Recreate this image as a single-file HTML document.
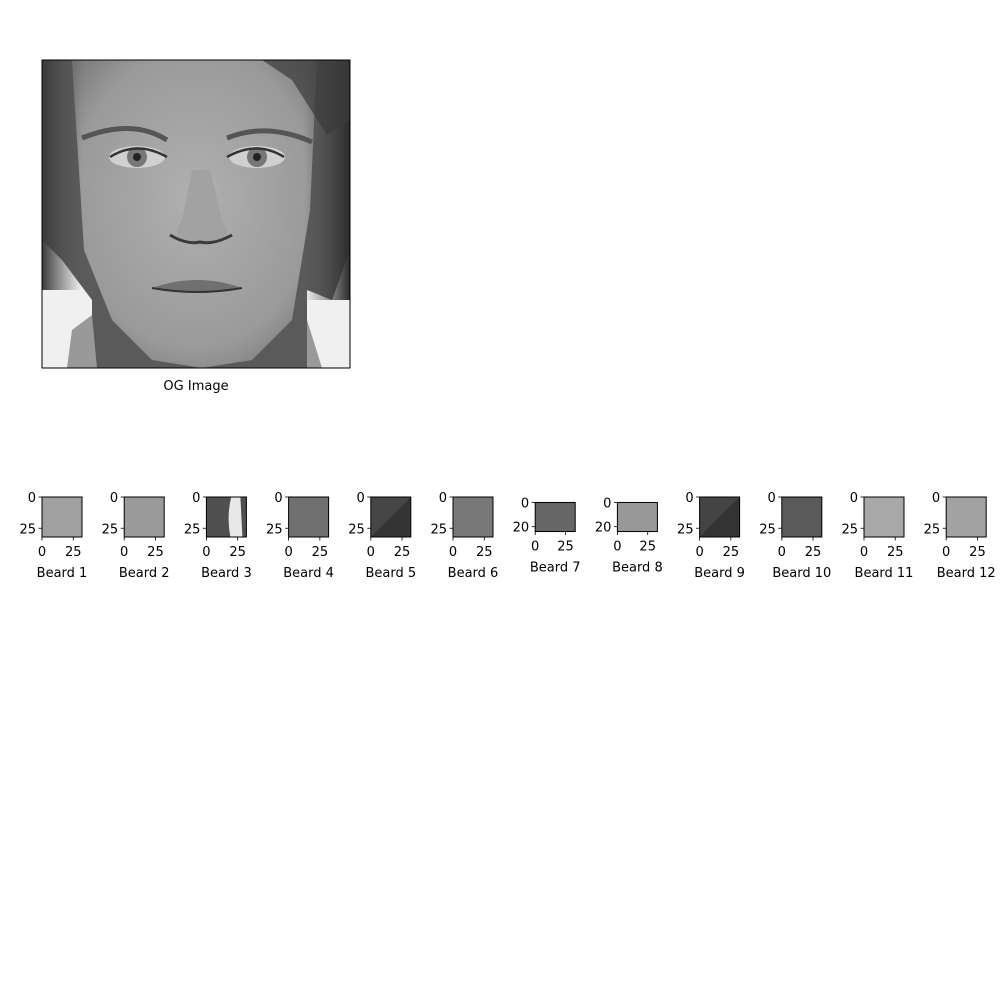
<!DOCTYPE html>
<html><head><meta charset="utf-8">
<style>
html,body{margin:0;padding:0;background:#fff;}
body{width:1000px;height:1000px;position:relative;overflow:hidden;font-family:"Liberation Sans","DejaVu Sans",sans-serif;}
</style></head>
<body>
<svg id="fig" width="1000" height="1000" viewBox="0 0 1000 1000" xmlns="http://www.w3.org/2000/svg" font-family="DejaVu Sans, Liberation Sans, sans-serif">
 <defs>
  <radialGradient id="skin" cx="0.5" cy="0.45" r="0.65">
   <stop offset="0" stop-color="#b0b0b0"/><stop offset="0.75" stop-color="#9a9a9a"/><stop offset="1" stop-color="#7a7a7a"/>
  </radialGradient>
  <linearGradient id="hairL" x1="0" x2="1"><stop offset="0" stop-color="#3a3a3a"/><stop offset="1" stop-color="#555" stop-opacity="0"/></linearGradient>
  <linearGradient id="hairR" x1="1" x2="0"><stop offset="0" stop-color="#2a2a2a"/><stop offset="1" stop-color="#555" stop-opacity="0"/></linearGradient>
  <clipPath id="faceclip"><rect x="0" y="0" width="308" height="308"/></clipPath>
 </defs>
 <g transform="translate(42,60)">
  <g clip-path="url(#faceclip)">
   <rect width="308" height="308" fill="#f0f0f0"/>
   <path d="M0,0 H308 V190 L290,240 L265,230 V308 H50 V240 L20,200 L0,180 Z" fill="#5a5a5a"/>
   <path d="M30,0 H275 L268,150 L250,260 L210,300 L160,308 L110,300 L70,260 L42,190 Z" fill="url(#skin)"/>
   <rect x="0" y="0" width="40" height="230" fill="url(#hairL)"/>
   <rect x="262" y="0" width="46" height="240" fill="url(#hairR)"/>
   <path d="M220,0 L308,0 L308,60 L285,75 L250,20 Z" fill="#3a3a3a" opacity="0.7"/>
   <path d="M30,270 L50,255 L55,308 L25,308 Z" fill="#999"/>
   <path d="M265,260 L280,308 L265,308 Z" fill="#999"/>
   <path d="M40,78 Q90,58 125,80" stroke="#555" stroke-width="5" fill="none"/>
   <path d="M185,78 Q225,62 270,82" stroke="#555" stroke-width="5" fill="none"/>
   <ellipse cx="95" cy="97" rx="28" ry="11" fill="#d0d0d0"/>
   <ellipse cx="215" cy="97" rx="28" ry="11" fill="#d0d0d0"/>
   <circle cx="95" cy="97" r="10" fill="#777"/><circle cx="95" cy="97" r="4" fill="#222"/>
   <circle cx="215" cy="97" r="10" fill="#777"/><circle cx="215" cy="97" r="4" fill="#222"/>
   <path d="M68,97 Q95,80 125,97" stroke="#333" stroke-width="2.5" fill="none"/>
   <path d="M185,97 Q215,80 242,97" stroke="#333" stroke-width="2.5" fill="none"/>
   <path d="M150,110 L140,160 Q128,178 145,182 Q160,190 175,182 Q192,178 180,160 L168,110" fill="#a2a2a2"/>
   <path d="M128,175 Q145,185 158,182 Q172,185 190,175" stroke="#3a3a3a" stroke-width="3" fill="none"/>
   <path d="M110,228 Q155,212 200,228 Q155,238 110,228 Z" fill="#707070"/>
   <path d="M110,228 Q155,236 200,228" stroke="#333" stroke-width="2" fill="none"/>
  </g>
  <rect x="0" y="0" width="308" height="308" fill="none" stroke="#000" stroke-width="1"/>
 </g>
 <text x="196" y="390" font-size="13" text-anchor="middle">OG Image</text>
 <g id="patches"></g>
</svg>
<script>
const patchLabels = ["Beard 1","Beard 2","Beard 3","Beard 4","Beard 5","Beard 6","Beard 7","Beard 8","Beard 9","Beard 10","Beard 11","Beard 12"];
const patchRows = [32,32,32,32,32,32,24,24,32,32,32,32];
const patchCols = [32,32,32,32,32,32,33,33,32,32,32,32];
const patchGray = [160,154,80,112,70,120,102,152,68,90,168,162];
const patchYTicks = [[0,25],[0,25],[0,25],[0,25],[0,25],[0,25],[0,20],[0,20],[0,25],[0,25],[0,25],[0,25]];
const patchXTicks = [0,25];

const NS="http://www.w3.org/2000/svg";
const g=document.getElementById('patches');
function mk(t,a){const e=document.createElementNS(NS,t);for(const k in a)e.setAttribute(k,a[k]);return e;}
const x0=42, step=82.2, cy=517, side=40;
patchLabels.forEach((lab,i)=>{
  const sc=side/Math.max(patchRows[i],patchCols[i]);
  const w=patchCols[i]*sc, h=patchRows[i]*sc;
  const left=x0+i*step, top=cy-h/2;
  const xs=v=>left+v*sc, ys=v=>top+v*sc;
  const grp=mk('g',{});
  
  
  const c=patchGray[i];
  const r=mk('rect',{x:left,y:top,width:w,height:h,fill:`rgb(${c},${c},${c})`});
  
  
  grp.appendChild(r);
  if(i===2){const s=mk('path',{d:`M${left+w*0.62},${top} L${left+w*0.85},${top} L${left+w*0.9},${top+h} L${left+w*0.6},${top+h} Q${left+w*0.5},${top+h*0.5} ${left+w*0.62},${top} Z`,fill:'#e8e8e8'});grp.appendChild(s);}
  if(i===4||i===8){const s=mk('path',{d:`M${left+w},${top} L${left+w},${top+h} L${left},${top+h} Z`,fill:'rgba(0,0,0,0.25)'});grp.appendChild(s);}
  grp.appendChild(mk('rect',{x:left,y:top,width:w,height:h,fill:'none',stroke:'#000','stroke-width':1}));
  patchYTicks[i].forEach(t=>{
    const y=ys(t);
    grp.appendChild(mk('line',{x1:left-3.5,x2:left,y1:y,y2:y,stroke:'#000','stroke-width':0.8}));
    const tx=mk('text',{x:left-6,y:y+5,'font-size':13,'text-anchor':'end'});tx.textContent=t;
    
    
    grp.appendChild(tx);
  });
  patchXTicks.forEach(t=>{
    const x=xs(t);
    grp.appendChild(mk('line',{x1:x,x2:x,y1:top+h,y2:top+h+3.5,stroke:'#000','stroke-width':0.8}));
    const tx=mk('text',{x:x,y:top+h+19,'font-size':13,'text-anchor':'middle'});tx.textContent=t;
    
    
    grp.appendChild(tx);
  });
  const tl=mk('text',{x:left+w/2,y:top+h+40,'font-size':13,'text-anchor':'middle'});tl.textContent=lab;
  
  
  grp.appendChild(tl);
  g.appendChild(grp);
});
</script>
</body></html>
